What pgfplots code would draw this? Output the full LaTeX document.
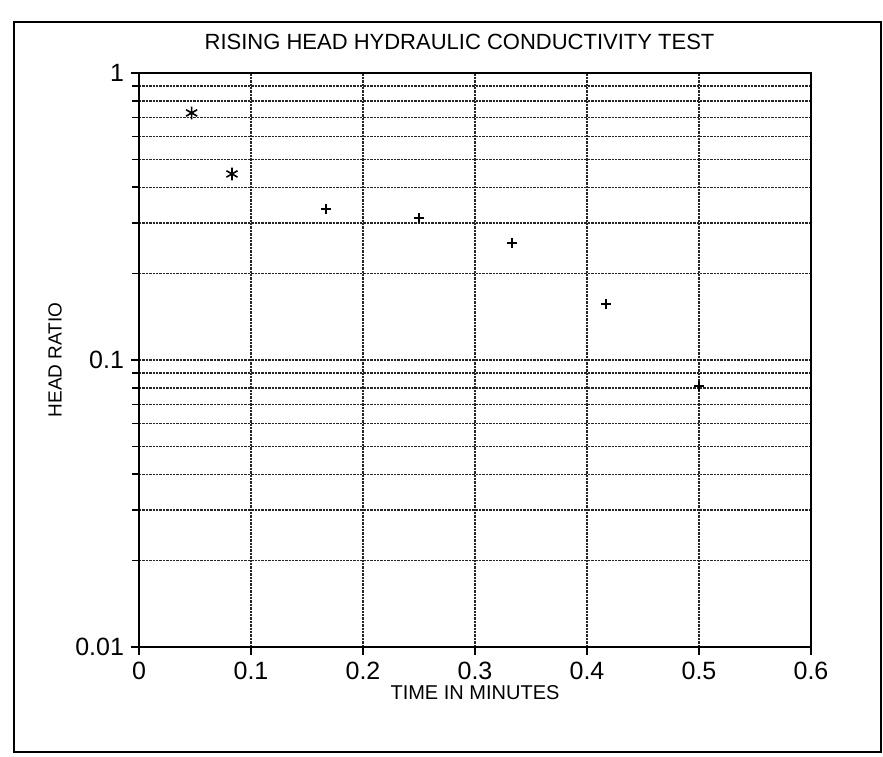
\documentclass[border=0pt]{standalone}
\usepackage{fontspec}
\setmainfont{Liberation Sans}
\usepackage{pgfplots}
\pgfplotsset{compat=1.18}
\begin{document}
\begin{tikzpicture}
\useasboundingbox (-69.5pt,-54.5pt) rectangle (372pt,323.5pt);
\draw[line width=0.9pt] (-62.5pt,-52.5pt) rectangle (371pt,312.5pt);
\begin{axis}[
  at={(0,0)}, anchor=south west,
  scale only axis, width=336pt, height=287pt,
  xmin=0, xmax=0.6, ymode=log, ymin=0.01, ymax=1,
  xtick={0,0.1,0.2,0.3,0.4,0.5,0.6},
  xticklabels={0,0.1,0.2,0.3,0.4,0.5,0.6},
  ytick={0.01,0.1,1}, yticklabels={0.01,0.1,1},
  minor ytick={0.02,0.03,0.04,0.05,0.06,0.07,0.08,0.09,0.2,0.3,0.4,0.5,0.6,0.7,0.8,0.9},
  xtick pos=left, ytick pos=left, tick align=outside,
  major tick length=4pt, minor tick length=3.5pt,
  tick style={black, line width=0.8pt},
  axis line style={line width=1pt},
  xmajorgrids, ymajorgrids, yminorgrids,
  major grid style={black!85, dash pattern=on 1.2pt off 0.5pt, line width=0.6pt},
  minor grid style={black!85, dash pattern=on 1.2pt off 0.5pt, line width=0.7pt},
  ticklabel style={font=\fontsize{12.5}{14}\selectfont},
  xlabel={TIME IN MINUTES}, ylabel={HEAD RATIO},
  xlabel style={font=\fontsize{10}{12}\selectfont, at={(axis description cs:0.5,-0.08)}, anchor=center},
  ylabel style={font=\fontsize{9.5}{11}\selectfont, at={(axis description cs:-0.125,0.5)}, anchor=center, rotate=0},
  title={RISING HEAD HYDRAULIC CONDUCTIVITY TEST},
  title style={at={(axis description cs:0.477,1.034)}, anchor=center, font=\fontsize{11}{13}\selectfont},
]
\addplot[only marks, mark=asterisk, mark size=3.2pt, mark options={line width=0.8pt}] coordinates {(0.047,0.726) (0.083,0.445)};
\addplot[only marks, mark=+, mark size=2.4pt, mark options={line width=0.8pt}] coordinates {(0.167,0.336) (0.25,0.312) (0.333,0.256) (0.417,0.157) (0.5,0.081)};
\end{axis}
\end{tikzpicture}
\end{document}
